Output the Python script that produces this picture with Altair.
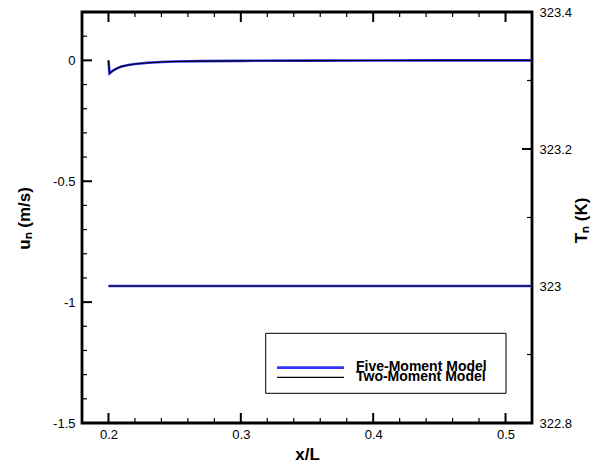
import altair as alt
import pandas as pd

# ---- data -------------------------------------------------------------
models = ["Five-Moment Model", "Two-Moment Model"]
model_colors = ["#3535ff", "#000000"]
model_widths = [2.6, 1.1]

# normal velocity along the channel (m/s)
x_u = [0.2, 0.2008, 0.203, 0.206, 0.21, 0.215, 0.22, 0.23, 0.24, 0.25,
       0.27, 0.30, 0.35, 0.40, 0.45, 0.50, 0.52]
u_five = [0.0, -0.054, -0.044, -0.034, -0.025, -0.019, -0.015, -0.010,
          -0.007, -0.005, -0.003, -0.002, -0.001, -0.0005, 0.0, 0.0, 0.0]
u_two = [0.0, -0.054, -0.044, -0.034, -0.025, -0.019, -0.015, -0.010,
         -0.007, -0.005, -0.003, -0.002, -0.001, -0.0005, 0.0, 0.0, 0.0]

# neutral temperature along the channel (K)
x_T = [0.2, 0.3, 0.4, 0.5, 0.52]
T_five = [323.0, 323.0, 323.0, 323.0, 323.0]
T_two = [323.0, 323.0, 323.0, 323.0, 323.0]

# axis ticks
x_major = [0.2, 0.3, 0.4, 0.5]
x_minor = [0.22, 0.24, 0.26, 0.28, 0.32, 0.34, 0.36, 0.38,
           0.42, 0.44, 0.46, 0.48]
u_major = [-1.5, -1.0, -0.5, 0.0]
u_minor = [-1.4, -1.3, -1.2, -1.1, -0.9, -0.8, -0.7, -0.6,
           -0.4, -0.3, -0.2, -0.1, 0.1]
T_major = [322.8, 323.0, 323.2, 323.4]
T_minor = [322.9, 323.1, 323.3]

x_domain = [0.18, 0.52]
u_domain = [-1.5, 0.2]
T_domain = [322.8, 323.4]

W, H = 450, 411
FONT = "Liberation Sans"
MAJOR, MINOR = 10, 5
TICK = "black"

# ---- tables -----------------------------------------------------------
u_df = pd.concat([
    pd.DataFrame({"x": x_u, "v": u_five, "model": models[0]}),
    pd.DataFrame({"x": x_u, "v": u_two, "model": models[1]}),
])
T_df = pd.concat([
    pd.DataFrame({"x": x_T, "v": T_five, "model": models[0]}),
    pd.DataFrame({"x": x_T, "v": T_two, "model": models[1]}),
])

color = alt.Color("model:N", scale=alt.Scale(domain=models, range=model_colors), legend=None)
width = alt.StrokeWidth("model:N", scale=alt.Scale(domain=models, range=model_widths), legend=None)

label_expr = "'' + datum.value"


def xscale():
    return alt.Scale(domain=x_domain, nice=False, zero=False)


def yscale(dom):
    return alt.Scale(domain=dom, nice=False, zero=False)


# ---- velocity lines, bottom and left axes ----------------------------
u_lines = alt.Chart(u_df).mark_line(clip=True).encode(
    x=alt.X("x:Q", scale=xscale(), axis=alt.Axis(
        orient="bottom", values=x_major, labelExpr=label_expr, tickSize=0,
        labelPadding=5, domain=False, title="x/L", titleFontSize=17,
        titleFontWeight="bold", titleX=W / 2, titleY=36, titleAlign="center",
        titleBaseline="alphabetic", grid=False)),
    y=alt.Y("v:Q", scale=yscale(u_domain), axis=alt.Axis(
        orient="left", values=u_major, labelExpr=label_expr, tickSize=0,
        labelPadding=7, domain=False, title="uₙ (m/s)", titleFontSize=17,
        titleFontWeight="bold", titleAngle=270, titleX=-58, titleY=206,
        titleAlign="center", titleBaseline="middle", grid=False)),
    color=color, strokeWidth=width, detail="model:N",
)

# ---- temperature lines, right axis ----------------------------------
T_lines = alt.Chart(T_df).mark_line(clip=True).encode(
    x=alt.X("x:Q", scale=xscale(), axis=None),
    y=alt.Y("v:Q", scale=yscale(T_domain), axis=alt.Axis(
        orient="right", values=T_major, labelExpr=label_expr, tickSize=0,
        labelPadding=7, domain=False, title="Tₙ (K)", titleFontSize=17,
        titleFontWeight="bold", titleAngle=270, titleX=49, titleY=208,
        titleAlign="center", titleBaseline="middle", grid=False)),
    color=color, strokeWidth=width, detail="model:N",
)


# ---- inward tick marks on all four edges -----------------------------
def x_ticks(values, size, w):
    df = pd.DataFrame({"t": values})
    base = alt.Chart(df).mark_rule(color=TICK, strokeWidth=w)
    bottom = base.encode(x=alt.X("t:Q", scale=xscale(), axis=None),
                         y=alt.value(H), y2=alt.value(H - size))
    top = base.encode(x=alt.X("t:Q", scale=xscale(), axis=None),
                      y=alt.value(0), y2=alt.value(size))
    return [bottom, top]


def y_ticks(values, dom, edge, size, w):
    df = pd.DataFrame({"t": values})
    inner = edge + size if edge == 0 else edge - size
    return [alt.Chart(df).mark_rule(color=TICK, strokeWidth=w).encode(
        y=alt.Y("t:Q", scale=yscale(dom), axis=None),
        x=alt.value(edge), x2=alt.value(inner))]


tick_layers = (
    x_ticks(x_major, MAJOR, 2) + x_ticks(x_minor, MINOR, 1.2)
    + y_ticks(u_major, u_domain, 0, MAJOR, 2) + y_ticks(u_minor, u_domain, 0, MINOR, 1.2)
    + y_ticks(T_major, T_domain, W, MAJOR, 2) + y_ticks(T_minor, T_domain, W, MINOR, 1.2)
)

# ---- legend -----------------------------------------------------------
legend_layers = [
    alt.Chart(pd.DataFrame({"k": [0]})).mark_rect(
        fill="white", stroke="black", strokeWidth=1
    ).encode(x=alt.value(183.7), x2=alt.value(424), y=alt.value(321.3), y2=alt.value(381.3))
]
for i, name in enumerate(models):
    row_y = 355.6 + 9.8 * i
    entry = pd.DataFrame({"model": [name]})
    legend_layers.append(alt.Chart(entry).mark_rule().encode(
        x=alt.value(195), x2=alt.value(262), y=alt.value(row_y),
        color=color, strokeWidth=width))
    legend_layers.append(alt.Chart(entry).mark_text(
        align="left", baseline="alphabetic", font=FONT, fontSize=14,
        fontWeight="bold", color="black",
    ).encode(x=alt.value(274), y=alt.value(row_y + 3.6), text="model:N"))

chart = alt.layer(
    *tick_layers, u_lines, T_lines, *legend_layers,
).resolve_scale(
    x="independent", y="independent"
).properties(
    width=W, height=H,
    padding={"left": 82, "top": 12, "right": 68, "bottom": 43},
    autosize=alt.AutoSizeParams(type="none"),
).configure_axis(
    labelFont=FONT, labelFontSize=13, labelColor="black",
    titleFont=FONT, titleColor="black",
).configure_view(stroke="black", strokeWidth=2.8)

chart.save("out.html", embed_options={"renderer": "svg", "actions": False})
